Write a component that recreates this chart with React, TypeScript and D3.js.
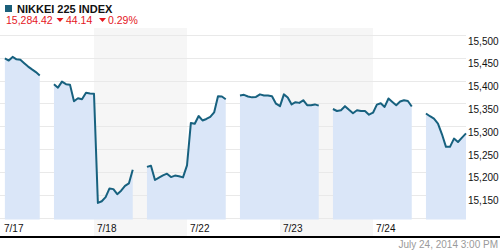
import React from "react";
import * as d3 from "d3";

// ---- data ----
const days = ["7/17", "7/18", "7/22", "7/23", "7/24"];
const shadedDays = ["7/18", "7/23"];
const gridValues = [15100, 15150, 15200, 15250, 15300, 15350, 15400, 15450, 15500];
const tickLabels = ["15,150", "15,200", "15,250", "15,300", "15,350", "15,400", "15,450", "15,500"];
const tickLabelValues = [15150, 15200, 15250, 15300, 15350, 15400, 15450, 15500];

// session minute spans (minutes after 9:00)
const amSpan = [15, 150];
const pmSpan = [205, 360];

const s0717am = [15448.8, 15444, 15452, 15446.6, 15445.5, 15438, 15430.8, 15424.6, 15418.7, 15411.4];
const s0717pm = [15392.3, 15384.6, 15397.8, 15392.3, 15391.2, 15354.9, 15361.5, 15359.3, 15373.6, 15371.9, 15371.4];
const s0718am = [15131.9, 15135.6, 15144.6, 15163.7, 15162.2, 15151.2, 15158.7, 15169.2, 15174.7, 15204.8];
const s0718pm = [15211, 15213.6, 15182.2, 15187.5, 15192.3, 15196, 15188.6, 15191.9, 15190.5, 15187.9, 15214.3];
const s0722am = [15307.3, 15305.5, 15322.4, 15312.7, 15316, 15320.4, 15330.3, 15365.9, 15365.3, 15359.3];
const s0722pm = [15367.5, 15368.8, 15365.3, 15363.3, 15364.2, 15369.9, 15367.5, 15367.5, 15365.9, 15349.5, 15344];
const s0723am = [15369.9, 15363.1, 15347.9, 15352.7, 15351.2, 15357.1, 15346.2, 15346.2, 15347.9, 15345.1];
const s0723pm = [15337.8, 15333.4, 15335.2, 15344, 15336, 15328.6, 15335.2, 15333.6, 15333.6, 15325.3, 15329.7];
const s0724am = [15347.3, 15350.5, 15342.4, 15360.9, 15353.4, 15346.2, 15354.3, 15357.1, 15355.4, 15343.3];
const s0724pm = [15327.9, 15322, 15316.5, 15305.9, 15282.4, 15254.9, 15254.9, 15273, 15265.5, 15275.2, 15284.42];

const title = "NIKKEI 225 INDEX";
const lastValue = "15,284.42";
const change = "44.14";
const changePct = "0.29%";
const stamp = "July 24, 2014 3:00 PM";

// ---- layout ----
const W = 500;
const H = 250;
const plotLeft = 1;
const plotRight = 466;
const plotTop = 28;
const plotBottom = 219.5;
const axisY = 237;

const DAY_MIN = 360;

type Pt = { t: number; v: number };

function sessionPoints(dayIdx: number, vals: number[], span: number[]): Pt[] {
  const n = vals.length;
  return vals.map((v, i) => ({
    t: dayIdx * DAY_MIN + span[0] + ((span[1] - span[0]) * i) / (n - 1),
    v,
  }));
}

const segments: Pt[][] = [
  sessionPoints(0, s0717am, amSpan),
  [...sessionPoints(0, s0717pm, pmSpan), ...sessionPoints(1, s0718am, amSpan)],
  [...sessionPoints(1, s0718pm, pmSpan), ...sessionPoints(2, s0722am, amSpan)],
  [...sessionPoints(2, s0722pm, pmSpan), ...sessionPoints(3, s0723am, amSpan)],
  [...sessionPoints(3, s0723pm, pmSpan), ...sessionPoints(4, s0724am, amSpan)],
  sessionPoints(4, s0724pm, pmSpan),
];

const x = d3.scaleLinear().domain([0, days.length * DAY_MIN]).range([plotLeft, plotRight]);
const y = d3.scaleLinear().domain([15100, 15500]).range([217.5, 35]);

const line = d3
  .line<Pt>()
  .x((d) => x(d.t))
  .y((d) => y(d.v));
const area = d3
  .area<Pt>()
  .x((d) => x(d.t))
  .y0(plotBottom)
  .y1((d) => y(d.v));

const FONT = "Arial, 'Liberation Sans', sans-serif";
const RED = "#e5161d";
const LINE = "#17617f";

export default function App() {
  const tri = "M-3.5,-2L3.5,-2L0,2Z";
  return (
    <svg
      width={W}
      height={H}
      style={{ position: "absolute", left: 0, top: 0, background: "#fff" }}
      fontFamily={FONT}
    >
      {/* shaded day bands */}
      {shadedDays.map((d) => {
        const i = days.indexOf(d);
        return (
          <rect
            key={d}
            x={x(i * DAY_MIN)}
            y={plotTop}
            width={x((i + 1) * DAY_MIN) - x(i * DAY_MIN)}
            height={axisY - 1 - plotTop}
            fill="#f6f6f6"
          />
        );
      })}
      {/* gridlines */}
      {gridValues.map((g) => (
        <line key={g} x1={0} x2={plotRight} y1={Math.round(y(g)) + 0.5} y2={Math.round(y(g)) + 0.5} stroke="#e9e9e9" strokeWidth={1} />
      ))}
      {/* areas */}
      {segments.map((s, i) => (
        <path key={"a" + i} d={area(s) || ""} fill="#dae6f8" />
      ))}
      {/* lines */}
      {segments.map((s, i) => (
        <path key={"l" + i} d={line(s) || ""} fill="none" stroke={LINE} strokeWidth={2} strokeLinejoin="round" />
      ))}
      {/* y labels */}
      {tickLabelValues.map((v, i) => (
        <text key={v} x={468} y={y(v) + 9.5} fontSize={10} fill="#111">
          {tickLabels[i]}
        </text>
      ))}
      {/* x labels */}
      {days.map((d, i) => (
        <text key={d} x={x(i * DAY_MIN) + 3} y={232} fontSize={10} fill="#111">
          {d}
        </text>
      ))}
      {/* bottom axis line */}
      <line x1={0} x2={W} y1={axisY} y2={axisY} stroke="#000" strokeWidth={2} />
      {/* timestamp */}
      <text x={498} y={248} fontSize={10} fill="#9a9a9a" textAnchor="end">
        {stamp}
      </text>
      {/* header */}
      <rect x={5} y={5} width={7} height={7} fill="#1a5f7a" />
      <text x={17} y={12.5} fontSize={11} fontWeight="bold" fill="#111">
        {title}
      </text>
      <text x={6} y={24} fontSize={10.5} fill={RED}>
        {lastValue}
      </text>
      <path d={tri} transform="translate(60,20)" fill={RED} />
      <text x={66} y={24} fontSize={10.5} fill={RED}>
        {change}
      </text>
      <path d={tri} transform="translate(102.5,20)" fill={RED} />
      <text x={108} y={24} fontSize={10.5} fill={RED}>
        {changePct}
      </text>
    </svg>
  );
}
